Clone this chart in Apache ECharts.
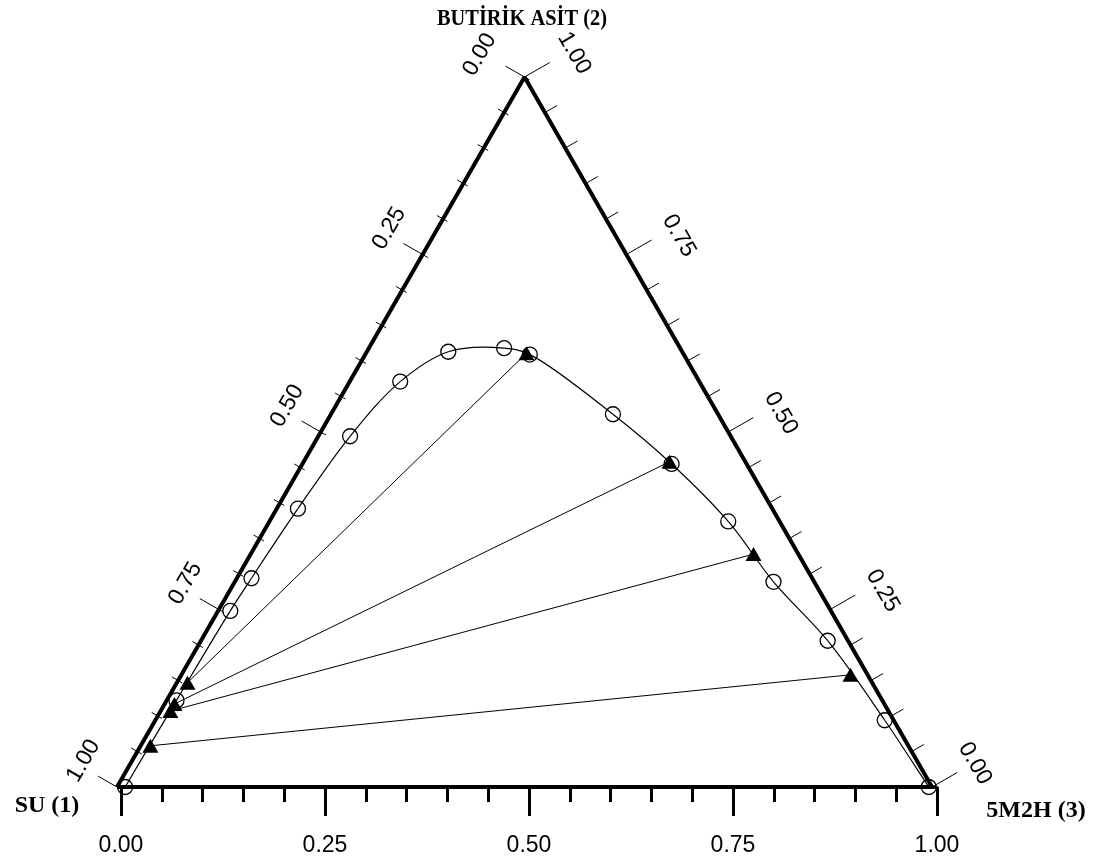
<!DOCTYPE html>
<html>
<head>
<meta charset="utf-8">
<script src="https://cdn.jsdelivr.net/npm/echarts@6/dist/echarts.min.js"></script>
<style>
  html, body { margin: 0; padding: 0; background: #fff; }
  #chart { width: 1096px; height: 865px; }
</style>
</head>
<body>
<div id="chart"></div>
<script>
// Compositions are mass fractions: x1 = SU, x2 = BUTİRİK ASİT, x3 = 5M2H (x1 = 1 - x2 - x3)
// Binodal (solubility) curve points
const binodalX2 = [0.000, 0.122, 0.248, 0.294, 0.392, 0.494, 0.571, 0.613, 0.618, 0.609, 0.525, 0.455, 0.374, 0.289, 0.206, 0.094, 0.000];
const binodalX3 = [0.010, 0.012, 0.015, 0.018, 0.026, 0.039, 0.062, 0.100, 0.166, 0.202, 0.346, 0.453, 0.563, 0.661, 0.769, 0.895, 0.996];

// Tie-line ends: water-rich phase and organic-rich phase
const aqueousX2 = [0.147, 0.117, 0.107, 0.058];
const aqueousX3 = [0.013, 0.012, 0.012, 0.012];
const organicX2 = [0.611, 0.458, 0.328, 0.158];
const organicX3 = [0.197, 0.449, 0.617, 0.821];

// Axis ticks
const tickValues = [0, 0.25, 0.5, 0.75, 1];
const tickLabels = ['0.00', '0.25', '0.50', '0.75', '1.00'];
const minorStep = 0.05;

// Vertex names
const vertexNames = ['SU (1)', 'BUTİRİK ASİT (2)', '5M2H (3)'];

const SQ3 = Math.sqrt(3) / 2;
// ternary (x2, x3) -> cartesian plot coordinates
function toXY(x2, x3) { return [x3 + x2 / 2, x2 * SQ3]; }

const binodal = binodalX2.map((v, i) => toXY(v, binodalX3[i]));
const aqueous = aqueousX2.map((v, i) => toXY(v, aqueousX3[i]));
const organic = organicX2.map((v, i) => toXY(v, organicX3[i]));

// Side-axis tick items: [edge (0 left, 1 right), value, major flag, label index]
const sideTicks = [];
for (let e = 0; e < 2; e++) {
  for (let i = 0; i <= Math.round(1 / minorStep); i++) {
    const v = Math.round(i * minorStep * 100) / 100;
    const li = tickValues.indexOf(v);
    sideTicks.push([e, v, li >= 0 ? 1 : 0, li]);
  }
}

const FONT_NUM = '"Liberation Sans", Arial, sans-serif';
const FONT_TITLE = '"Liberation Serif", "Times New Roman", serif';

// Label offset from the edge: a = outward distance, b = shift along the edge (towards the lower corner)
function labelOffset(edge, v) {
  if (edge === 0) {
    if (v === 0) return [50, 3];
    return [42, -6];
  }
  if (v === 1) return [55, 4];
  if (v === 0) return [49, 1];
  return [55, 10];
}

function renderSideAxis(params, api) {
  const edge = api.value(0), v = api.value(1), major = api.value(2), li = api.value(3);
  const apex = api.coord(toXY(1, 0));
  const end = edge === 0 ? api.coord(toXY(0, 0)) : api.coord(toXY(0, 1));
  let dx = end[0] - apex[0], dy = end[1] - apex[1];
  const len = Math.hypot(dx, dy); dx /= len; dy /= len;
  // outward normal
  const n = edge === 0 ? [-dy, dx] : [dy, -dx];
  // left edge: value = x1 (0 at apex); right edge: value = x2 (1 at apex)
  const p = edge === 0 ? api.coord(toXY(1 - v, 0)) : api.coord(toXY(v, 1 - v));
  let outL, inL;
  if (edge === 0) { outL = major ? 22 : 7; inL = major ? 6 : 5; }
  else { outL = major ? 29 : 14; inL = 0; }
  const children = [{
    type: 'line',
    shape: { x1: p[0] + n[0] * outL, y1: p[1] + n[1] * outL, x2: p[0] - n[0] * inL, y2: p[1] - n[1] * inL },
    style: { stroke: '#000', lineWidth: 1 }
  }];
  if (major && li >= 0) {
    const [a, b] = labelOffset(edge, v);
    children.push({
      type: 'text',
      x: p[0] + n[0] * a + dx * b,
      y: p[1] + n[1] * a + dy * b,
      rotation: edge === 0 ? Math.PI / 3 : -Math.PI / 3,
      style: {
        text: tickLabels[li], font: '23px ' + FONT_NUM, fill: '#000',
        align: 'center', verticalAlign: 'middle'
      }
    });
  }
  return { type: 'group', children };
}

// Smooth binodal curve: centripetal Catmull-Rom spline through the measured points
function renderBinodal(params, api) {
  const P = binodal.map(p => api.coord(p));
  const n = P.length;
  const get = i => {
    if (i < 0) return [2 * P[0][0] - P[1][0], 2 * P[0][1] - P[1][1]];
    if (i >= n) return [2 * P[n - 1][0] - P[n - 2][0], 2 * P[n - 1][1] - P[n - 2][1]];
    return P[i];
  };
  const dist = (a, b) => Math.hypot(a[0] - b[0], a[1] - b[1]);
  const children = [];
  for (let i = 0; i < n - 1; i++) {
    const p0 = get(i - 1), p1 = P[i], p2 = P[i + 1], p3 = get(i + 2);
    const d1 = dist(p0, p1), d2 = dist(p1, p2), d3 = dist(p2, p3);
    const a1 = Math.sqrt(d1), a2 = Math.sqrt(d2), a3 = Math.sqrt(d3);
    const c1 = [0, 1].map(k => (d1 * p2[k] - d2 * p0[k] + (2 * d1 + 3 * a1 * a2 + d2) * p1[k]) / (3 * a1 * (a1 + a2)));
    const c2 = [0, 1].map(k => (d3 * p1[k] - d2 * p3[k] + (2 * d3 + 3 * a3 * a2 + d2) * p2[k]) / (3 * a3 * (a3 + a2)));
    children.push({
      type: 'bezierCurve',
      shape: { x1: p1[0], y1: p1[1], x2: p2[0], y2: p2[1], cpx1: c1[0], cpy1: c1[1], cpx2: c2[0], cpy2: c2[1] },
      style: { stroke: '#000', lineWidth: 1.2, fill: null }
    });
  }
  return { type: 'group', children };
}

const chart = echarts.init(document.getElementById('chart'), null, { renderer: 'canvas' });

const series = [];
// Triangle frame
series.push({
  type: 'line', xAxisIndex: 0, yAxisIndex: 0, clip: false, silent: true,
  data: [toXY(0, 0), toXY(1, 0), toXY(0, 1), toXY(0, 0)],
  symbol: 'none', lineStyle: { color: '#000', width: 4 }, z: 3
});
// Side axes
series.push({
  type: 'custom', xAxisIndex: 0, yAxisIndex: 0, clip: false, silent: true,
  data: sideTicks, renderItem: renderSideAxis, z: 4
});
// Tie lines
aqueous.forEach((a, i) => {
  series.push({
    type: 'line', xAxisIndex: 0, yAxisIndex: 0, clip: false, silent: true,
    data: [a, organic[i]], symbol: 'none',
    lineStyle: { color: '#000', width: 1 }, z: 5
  });
});
// Binodal curve
series.push({
  type: 'custom', xAxisIndex: 0, yAxisIndex: 0, clip: false, silent: true,
  data: [[0, 0]], renderItem: renderBinodal, z: 6
});
// Binodal points
series.push({
  type: 'scatter', xAxisIndex: 0, yAxisIndex: 0, clip: false, silent: true,
  data: binodal, symbol: 'circle', symbolSize: 15,
  itemStyle: { color: 'rgba(255,255,255,0)', borderColor: '#000', borderWidth: 1.3, opacity: 1 }, z: 7
});
// Tie-line end points
series.push({
  type: 'scatter', xAxisIndex: 0, yAxisIndex: 0, clip: false, silent: true,
  data: aqueous.concat(organic), symbol: 'triangle', symbolSize: [16, 14],
  itemStyle: { color: '#000', opacity: 1 }, z: 8
});

chart.setOption({
  animation: false,
  backgroundColor: '#fff',
  grid: [
    { left: 117, top: 77, width: 815, height: 710 },
    { left: 121, top: 77, width: 816, height: 710 }
  ],
  xAxis: [
    { gridIndex: 0, type: 'value', min: 0, max: 1, show: false },
    {
      gridIndex: 1, type: 'value', min: 0, max: 1, interval: 0.25, position: 'bottom',
      axisLine: { show: true, lineStyle: { color: '#000', width: 3 } },
      axisTick: { show: true, length: 29, lineStyle: { color: '#000', width: 3 } },
      minorTick: { show: true, splitNumber: 5, length: 15, lineStyle: { color: '#000', width: 3 } },
      splitLine: { show: false },
      axisLabel: {
        margin: 47, fontSize: 23, color: '#000', fontFamily: FONT_NUM,
        formatter: v => tickLabels[tickValues.indexOf(Math.round(v * 100) / 100)] || ''
      }
    }
  ],
  yAxis: [
    { gridIndex: 0, type: 'value', min: 0, max: SQ3, show: false },
    { gridIndex: 1, type: 'value', min: 0, max: SQ3, show: false }
  ],
  graphic: [
    { type: 'text', x: 522, y: 19, scaleX: 0.85, style: { text: vertexNames[1], font: 'bold 24px ' + FONT_TITLE, fill: '#000', align: 'center', verticalAlign: 'middle' } },
    { type: 'text', x: 47, y: 806, style: { text: vertexNames[0], font: 'bold 24px ' + FONT_TITLE, fill: '#000', align: 'center', verticalAlign: 'middle' } },
    { type: 'text', x: 1036, y: 811, style: { text: vertexNames[2], font: 'bold 24px ' + FONT_TITLE, fill: '#000', align: 'center', verticalAlign: 'middle' } }
  ],
  series
});
</script>
</body>
</html>
